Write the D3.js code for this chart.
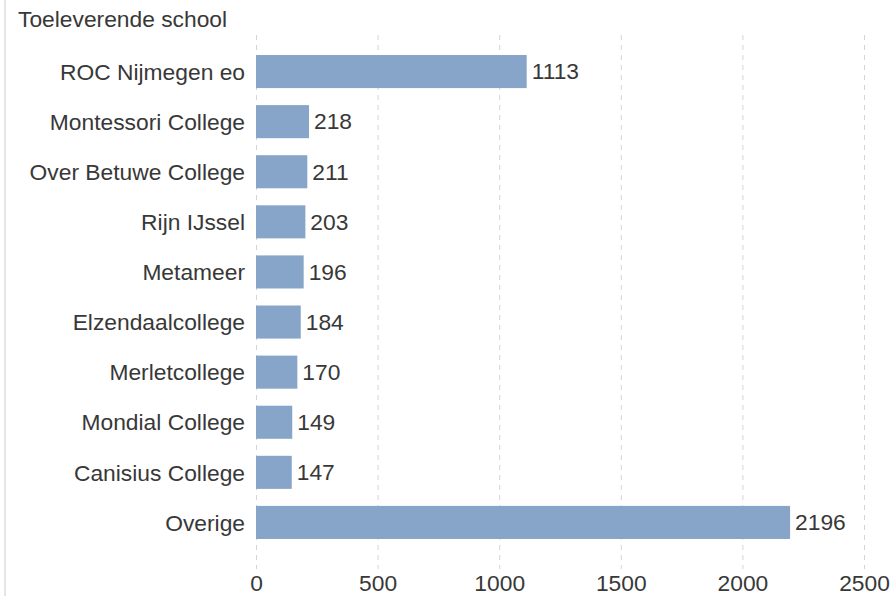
<!DOCTYPE html>
<html>
<head>
<meta charset="utf-8">
<script src="https://cdn.jsdelivr.net/npm/d3@7"></script>
<style>
  html, body { margin: 0; padding: 0; background: #fff; }
  svg { display: block; font-family: "Liberation Sans", Arial, sans-serif; }
</style>
</head>
<body>
<svg id="chart" width="893" height="596"></svg>
<script>
const schools = ["ROC Nijmegen eo", "Montessori College", "Over Betuwe College", "Rijn IJssel", "Metameer", "Elzendaalcollege", "Merletcollege", "Mondial College", "Canisius College", "Overige"];
const counts = [1113, 218, 211, 203, 196, 184, 170, 149, 147, 2196];
const xTicks = [0, 500, 1000, 1500, 2000, 2500];
const titleText = "Toeleverende school";

const svg = d3.select("#chart");
const textColor = "#383838";
const barColor = "#87a5c8";
const fs = 22.8;

const x = d3.scaleLinear().domain([0, 2500]).range([256, 864]);
const y = d3.scaleBand().domain(schools).range([46.5, 547.5]).paddingInner(0.34).paddingOuter(0.17);

// left faint border
svg.append("line").attr("x1", 5).attr("x2", 5).attr("y1", 0).attr("y2", 596)
  .attr("stroke", "#e6e6e6").attr("stroke-width", 2);

// gridlines
svg.append("g").selectAll("line").data(xTicks).join("line")
  .attr("x1", d => x(d) + 0.5).attr("x2", d => x(d) + 0.5)
  .attr("y1", 35).attr("y2", 569)
  .attr("stroke", "#d4d4d4").attr("stroke-width", 1)
  .attr("stroke-dasharray", "5,5");

// x axis tick labels
const xAxis = d3.axisBottom(x).tickValues(xTicks).tickSize(0).tickPadding(0).tickFormat(d3.format("d"));
const gx = svg.append("g").attr("transform", "translate(0,591)").call(xAxis);
gx.select(".domain").remove();
gx.selectAll("text").attr("font-size", fs).attr("fill", textColor)
  .attr("font-family", '"Liberation Sans", Arial, sans-serif').attr("y", 0).attr("dy", 0);

// y axis labels
const yAxis = d3.axisLeft(y).tickSize(0).tickPadding(11);
const gy = svg.append("g").attr("transform", `translate(${x(0)},0)`).call(yAxis);
gy.select(".domain").remove();
gy.selectAll("text").attr("font-size", fs).attr("fill", textColor)
  .attr("font-family", '"Liberation Sans", Arial, sans-serif').attr("dy", "0.36em");

// bars
svg.append("g").selectAll("rect").data(schools).join("rect")
  .attr("x", x(0))
  .attr("y", d => y(d))
  .attr("width", (d, i) => x(counts[i]) - x(0))
  .attr("height", y.bandwidth())
  .attr("fill", barColor);

// value labels
svg.append("g").selectAll("text").data(schools).join("text")
  .attr("x", (d, i) => x(counts[i]) + 5)
  .attr("y", d => y(d) + y.bandwidth() / 2)
  .attr("dy", "0.34em")
  .attr("font-size", fs).attr("fill", textColor)
  .text((d, i) => counts[i]);

// title
svg.append("text").attr("x", 18).attr("y", 27)
  .attr("font-size", fs).attr("fill", textColor)
  .text(titleText);
</script>
</body>
</html>
